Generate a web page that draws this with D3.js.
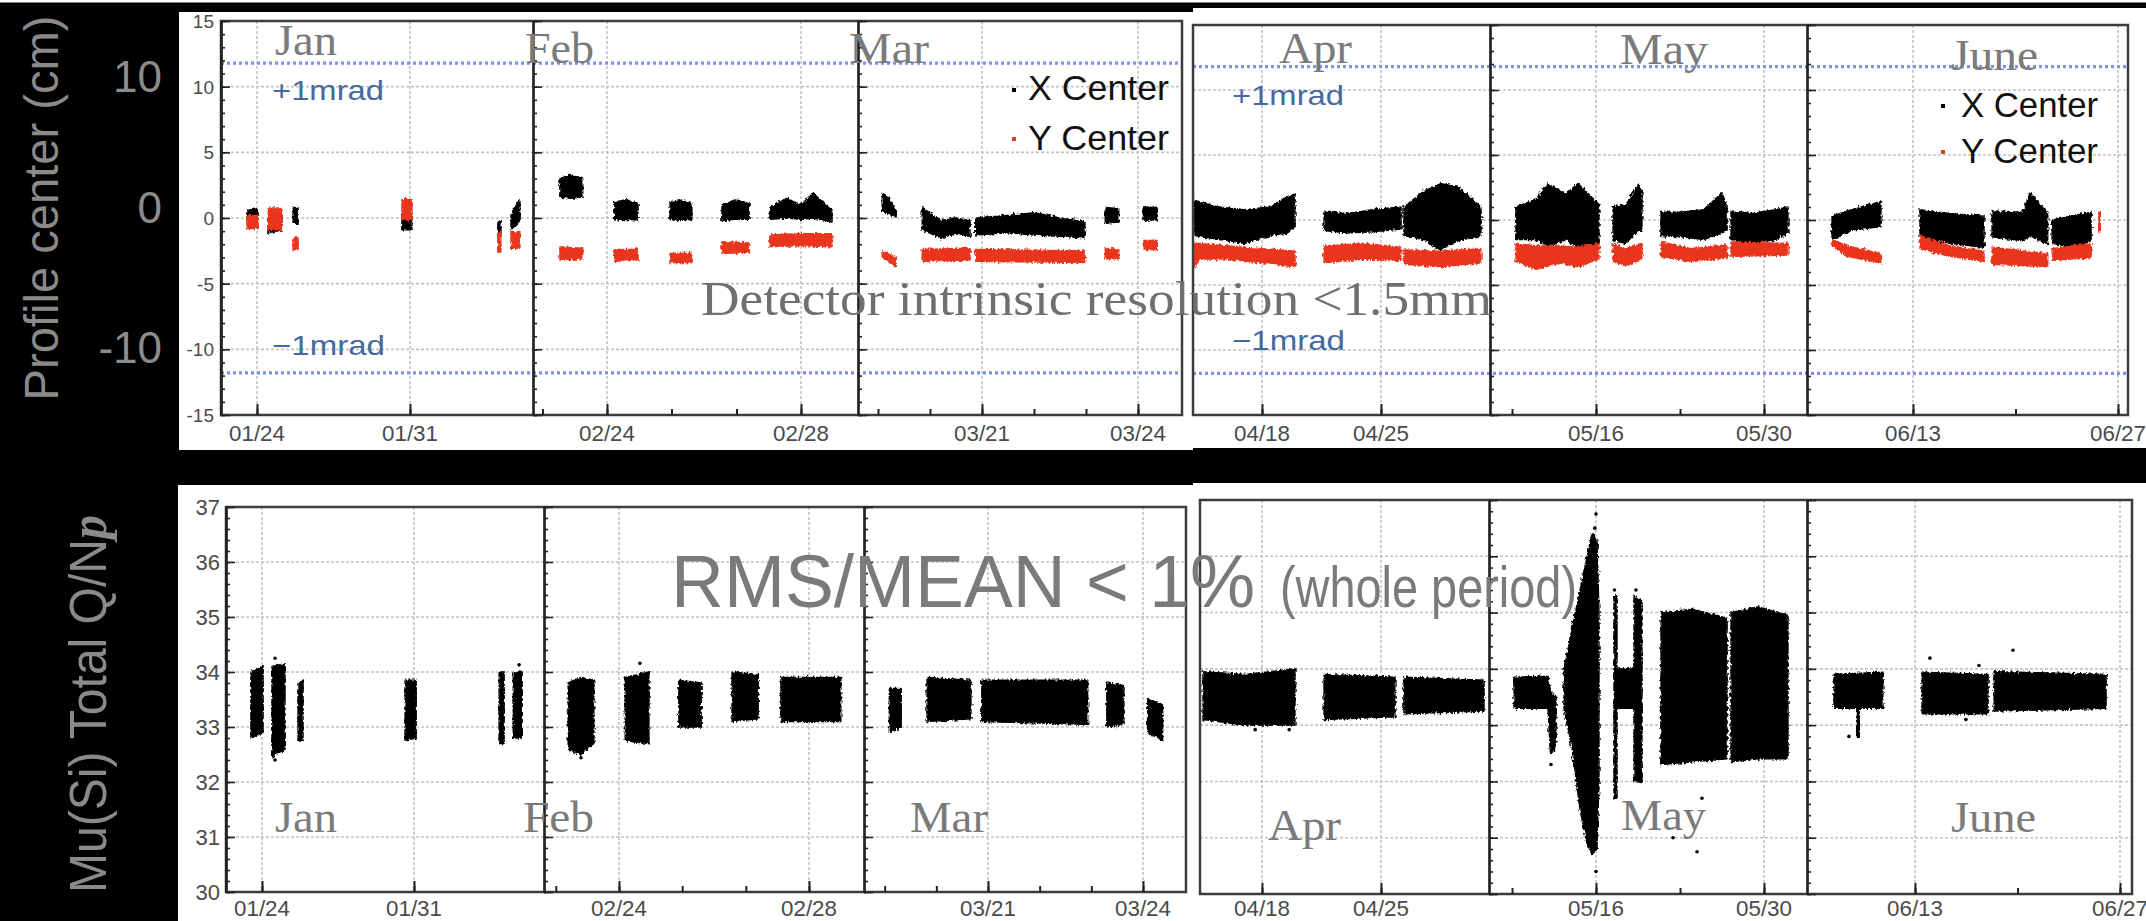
<!DOCTYPE html>
<html>
<head>
<meta charset="utf-8">
<title>Beam profile centre and Mu(Si) total charge per proton</title>
<script src="https://cdn.jsdelivr.net/npm/d3@7/dist/d3.min.js"></script>
<style>
html,body{margin:0;padding:0;background:#000;}
svg{display:block;}
</style>
</head>
<body>
<svg id="chart" width="2146" height="921"></svg>
<script>
// ---------------- data ----------------
const months = ["Jan", "Feb", "Mar", "Apr", "May", "June"];
// labelled days on each month's time axis, and every tick day
const labelDays = [[24, 31], [24, 28], [21, 24], [18, 25], [16, 30], [13, 27]];
const tickDays = [[24, 31], [22.67, 24, 25.33, 26.67, 28], [19, 20, 21, 22, 23, 24], [18, 25], [9, 16, 23, 30], [13, 20, 27]];
const centerTicks = [-15, -10, -5, 0, 5, 10, 15];
const chargeTicks = [30, 31, 32, 33, 34, 35, 36, 37];
const centerBigLabels = [10, 0, -10];
const mradLimit = 11.8; // beam centre shift equivalent to 1 mrad (cm)

// runs of measurements: [month index, [[day, low, high], ...]]
const xCenterRuns = [
  [0, [[23.54, -0.1, 0.5], [23.8, 0.0, 0.76], [24.05, -0.1, 0.6]]],
  [0, [[24.5, -1.15, 0.2], [25.14, -0.9, 0.2]]],
  [0, [[25.65, -0.4, 0.8], [25.88, -0.4, 0.8]]],
  [0, [[30.63, -0.9, 0.4], [31.09, -0.9, 0.3]]],
  [0, [[35.02, -1.4, -0.3], [35.16, -1.3, -0.3]]],
  [0, [[35.62, -0.9, 0.2], [35.8, -0.6, 0.8], [36.03, -0.2, 1.4]]],
  [1, [[23.03, 1.6, 3.0], [23.25, 1.5, 3.3], [23.5, 1.6, 3.0]]],
  [1, [[24.16, -0.15, 1.2], [24.4, -0.1, 1.4], [24.64, -0.15, 1.1]]],
  [1, [[25.3, -0.1, 1.2], [25.5, -0.2, 1.4], [25.75, -0.1, 1.1]]],
  [1, [[26.37, -0.2, 1.0], [26.65, -0.1, 1.4], [26.93, -0.1, 1.1]]],
  [1, [[27.36, -0.1, 0.8], [27.7, 0.0, 1.5], [28.0, -0.1, 1.0], [28.25, 0.0, 1.9], [28.5, -0.2, 1.0], [28.64, -0.3, 0.6]]],
  [2, [[19.08, 0.6, 1.9], [19.2, 0.3, 1.5], [19.35, 0.1, 0.6]]],
  [2, [[19.85, -0.9, 0.8], [20.2, -1.5, -0.2], [20.5, -1.2, 0.0], [20.77, -1.4, -0.2]]],
  [2, [[20.88, -1.3, 0.0], [21.5, -1.1, 0.2], [22.0, -1.3, 0.4], [22.5, -1.4, 0.0], [22.98, -1.5, -0.3]]],
  [2, [[23.37, -0.4, 0.8], [23.63, -0.3, 0.7]]],
  [2, [[24.1, -0.15, 0.85], [24.37, -0.15, 0.8]]],
  [3, [[14.0, -1.2, 1.5], [15.5, -1.5, 1.0], [17.0, -1.8, 0.8], [18.5, -1.2, 1.0], [19.5, -1.0, 1.8], [19.94, -0.5, 2.0]]],
  [3, [[21.65, -0.8, 0.6], [23.0, -1.0, 0.5], [24.5, -0.9, 0.8], [26.18, -0.7, 1.0]]],
  [3, [[26.35, -1.2, 1.0], [27.5, -1.5, 2.2], [28.5, -2.3, 2.8], [29.5, -1.6, 2.6], [30.88, -1.2, 1.0]]],
  [4, [[9.33, -1.5, 1.0], [11.0, -1.5, 1.6], [12.0, -2.0, 2.8], [13.5, -1.5, 2.0], [14.5, -2.1, 2.8], [16.25, -1.8, 1.2]]],
  [4, [[17.42, -1.6, 1.0], [18.5, -1.8, 1.2], [19.5, -0.8, 2.7], [19.83, -0.8, 2.2]]],
  [4, [[21.42, -1.2, 0.6], [23.0, -1.3, 0.6], [25.0, -1.5, 0.8], [26.5, -1.0, 2.1], [26.92, -0.8, 1.0]]],
  [4, [[27.25, -1.5, 0.7], [29.0, -1.8, 0.5], [31.0, -1.5, 0.8], [32.0, -1.0, 1.0]]],
  [5, [[7.47, -1.5, 0.3], [8.8, -0.8, 0.8], [10.81, -0.5, 1.4]]],
  [5, [[13.48, -1.2, 0.8], [15.5, -1.8, 0.5], [17.85, -2.1, 0.3]]],
  [5, [[18.4, -1.3, 0.7], [20.5, -1.6, 0.6], [21.0, -1.2, 2.1], [22.2, -1.9, 0.5]]],
  [5, [[22.5, -1.8, 0.0], [23.8, -2.1, 0.3], [25.16, -1.6, 0.6]]]
];

const yCenterRuns = [
  [0, [[23.54, -0.8, 0.2], [24.05, -0.8, 0.2]]],
  [0, [[24.5, -0.9, 0.76], [25.14, -0.9, 0.76]]],
  [0, [[25.65, -2.4, -1.5], [25.88, -2.4, -1.5]]],
  [0, [[30.63, -0.15, 1.4], [31.09, -0.15, 1.4]]],
  [0, [[35.02, -2.6, -1.1], [35.16, -2.6, -1.1]]],
  [0, [[35.62, -2.3, -1.1], [36.03, -2.3, -1.1]]],
  [1, [[23.03, -3.2, -2.2], [23.5, -3.1, -2.3]]],
  [1, [[24.16, -3.3, -2.4], [24.64, -3.2, -2.4]]],
  [1, [[25.3, -3.4, -2.7], [25.75, -3.4, -2.7]]],
  [1, [[26.37, -2.7, -1.8], [26.93, -2.6, -1.9]]],
  [1, [[27.36, -2.2, -1.3], [28.0, -2.1, -1.2], [28.64, -2.2, -1.2]]],
  [2, [[19.08, -3.0, -2.5], [19.35, -3.7, -3.0]]],
  [2, [[19.85, -3.3, -2.4], [20.77, -3.2, -2.3]]],
  [2, [[20.88, -3.3, -2.4], [22.98, -3.4, -2.5]]],
  [2, [[23.37, -3.1, -2.3], [23.63, -3.1, -2.4]]],
  [2, [[24.1, -2.4, -1.7], [24.37, -2.4, -1.7]]],
  [3, [[14.0, -3.6, -1.8], [14.3, -3.0, -1.8], [16.0, -3.0, -2.0], [19.94, -3.6, -2.4]]],
  [3, [[21.65, -3.3, -2.0], [24.0, -3.0, -1.8], [26.18, -3.1, -2.1]]],
  [3, [[26.35, -3.4, -2.3], [28.5, -3.6, -2.4], [30.88, -3.3, -2.2]]],
  [4, [[9.33, -3.2, -1.8], [11.0, -3.8, -2.0], [13.0, -3.3, -2.0], [14.5, -3.6, -2.1], [16.25, -3.0, -1.8]]],
  [4, [[17.42, -3.2, -1.8], [18.5, -3.5, -2.2], [19.83, -3.0, -1.8]]],
  [4, [[21.42, -2.8, -1.7], [24.0, -3.2, -2.2], [26.92, -2.9, -1.9]]],
  [4, [[27.25, -2.8, -1.7], [32.0, -2.7, -1.8]]],
  [5, [[7.47, -2.0, -1.5], [8.5, -2.8, -2.0], [10.81, -3.3, -2.6]]],
  [5, [[13.48, -2.2, -1.2], [15.5, -2.8, -2.0], [17.85, -3.2, -2.4]]],
  [5, [[18.4, -3.4, -2.1], [22.2, -3.6, -2.6]]],
  [5, [[22.5, -3.1, -2.2], [25.16, -2.9, -1.8]]],
  [5, [[25.65, -0.9, 0.6], [25.8, -0.9, 0.6]]]
];

const chargeRuns = [
  [0, [[23.49, 32.8, 34.0], [24.05, 32.9, 34.1]]],
  [0, [[24.46, 32.45, 34.1], [25.06, 32.6, 34.15]]],
  [0, [[25.66, 32.75, 33.8], [25.89, 32.75, 33.85]]],
  [0, [[30.59, 32.76, 33.85], [31.1, 32.8, 33.85]]],
  [0, [[34.92, 32.7, 34.0], [35.15, 32.7, 34.0]]],
  [0, [[35.57, 32.8, 34.0], [35.98, 32.8, 34.0]]],
  [1, [[22.93, 32.6, 33.8], [23.2, 32.5, 33.9], [23.47, 32.7, 33.85]]],
  [1, [[24.13, 32.75, 33.9], [24.63, 32.7, 34.0]]],
  [1, [[25.26, 33.0, 33.85], [25.73, 33.0, 33.8]]],
  [1, [[26.38, 33.1, 34.0], [26.93, 33.15, 33.95]]],
  [1, [[27.41, 33.1, 33.9], [28.67, 33.1, 33.9]]],
  [2, [[19.09, 32.9, 33.7], [19.32, 33.0, 33.7]]],
  [2, [[19.82, 33.1, 33.9], [20.67, 33.15, 33.85]]],
  [2, [[20.88, 33.1, 33.85], [22.93, 33.05, 33.85]]],
  [2, [[23.3, 33.0, 33.8], [23.63, 33.05, 33.75]]],
  [2, [[24.09, 32.9, 33.5], [24.38, 32.75, 33.4]]],
  [3, [[14.53, 33.1, 33.95], [17.0, 33.0, 33.9], [19.94, 33.0, 34.0]]],
  [3, [[21.65, 33.1, 33.9], [25.82, 33.15, 33.85]]],
  [3, [[26.35, 33.2, 33.85], [31.06, 33.25, 33.8]]],
  [4, [[9.17, 33.3, 33.85], [12.0, 33.3, 33.87], [12.2, 32.5, 33.6], [12.67, 32.6, 33.5]]],
  [4, [[13.33, 33.3, 34.0], [14.0, 32.6, 34.7], [14.67, 31.5, 35.4], [15.25, 30.9, 36.0], [15.67, 30.7, 36.4], [16.08, 30.8, 36.3], [16.25, 32.0, 35.0]]],
  [4, [[17.5, 31.7, 35.3], [17.75, 31.7, 35.3]]],
  [4, [[17.75, 33.3, 34.0], [19.17, 33.3, 34.0]]],
  [4, [[19.17, 32.0, 35.3], [19.83, 31.98, 35.2]]],
  [4, [[21.42, 32.3, 35.0], [24.0, 32.35, 35.06], [26.92, 32.4, 34.9]]],
  [4, [[27.25, 32.35, 35.0], [29.5, 32.4, 35.1], [32.0, 32.4, 34.95]]],
  [5, [[7.47, 33.3, 33.9], [10.81, 33.3, 33.94]]],
  [5, [[9.0, 32.8, 33.4], [9.2, 32.8, 33.4]]],
  [5, [[13.48, 33.2, 33.94], [17.99, 33.2, 33.9]]],
  [5, [[18.4, 33.25, 33.95], [26.05, 33.3, 33.9]]]
];

// isolated points: [month index, day, value]
const chargeOutliers = [
  [0, 24.6, 34.25], [0, 24.6, 32.4], [0, 35.84, 34.13],
  [1, 23.2, 32.44], [1, 24.44, 34.16],
  [3, 17.6, 32.92], [3, 19.6, 32.92],
  [4, 16.0, 36.75], [4, 15.9, 36.5], [4, 17.54, 35.4], [4, 19.33, 35.4],
  [4, 24.83, 31.7], [4, 22.42, 31.0], [4, 24.42, 30.75], [4, 12.25, 32.3], [4, 16.0, 30.4],
  [5, 14.02, 34.19], [5, 19.69, 34.33], [5, 17.37, 34.06], [5, 16.48, 33.1], [5, 8.49, 32.8]
];

// ---------------- drawing ----------------
const svg = d3.select("#chart");
const defs = svg.append("defs");
const SANS = "'Liberation Sans', Arial, Helvetica, sans-serif";
const SERIF = "'Liberation Serif', 'Times New Roman', serif";

// ragged edge for dense scatter clouds
const rough = defs.append("filter").attr("id", "ragged")
  .attr("x", "-5%").attr("y", "-20%").attr("width", "110%").attr("height", "140%");
rough.append("feTurbulence").attr("type", "fractalNoise").attr("baseFrequency", "0.45 0.3")
  .attr("numOctaves", 2).attr("seed", 7).attr("result", "noise");
rough.append("feDisplacementMap").attr("in", "SourceGraphic").attr("in2", "noise")
  .attr("scale", 5).attr("xChannelSelector", "R").attr("yChannelSelector", "G");

function label(parent, o) {
  const t = parent.append("text")
    .attr("x", o.x).attr("y", o.y)
    .attr("font-family", o.family || SANS)
    .attr("font-size", o.size)
    .attr("fill", o.fill || "#777")
    .attr("text-anchor", o.anchor || "start")
    .text(o.text);
  if (o.len) t.attr("textLength", o.len).attr("lengthAdjust", "spacingAndGlyphs");
  if (o.rotate) t.attr("transform", `rotate(${o.rotate},${o.x},${o.y})`);
  return t;
}

// white plot backgrounds, black surround
svg.append("rect").attr("width", 2146).attr("height", 921).attr("fill", "#000");
svg.append("rect").attr("x", 0).attr("y", 0).attr("width", 2146).attr("height", 2.5).attr("fill", "#fff");
[[179, 12, 1014, 438], [1193, 8, 953, 440], [178, 485, 1015, 436], [1193, 483, 953, 438]]
  .forEach(([x, y, w, h]) => svg.append("rect").attr("x", x).attr("y", y).attr("width", w).attr("height", h).attr("fill", "#fff"));

function drawChart(cfg) {
  const g = svg.append("g");
  const frameOf = i => (i < 3 ? 0 : 1);
  const yScales = cfg.frames.map(f => d3.scaleLinear().domain(cfg.yDomain).range([f.y1, f.y0]));
  const xScales = cfg.panels.map((p, i) => d3.scaleLinear().domain(labelDays[i]).range(cfg.anchors[i]));

  cfg.panels.forEach((p, i) => {
    const f = cfg.frames[frameOf(i)];
    defs.append("clipPath").attr("id", `${cfg.id}-clip${i}`)
      .append("rect").attr("x", p[0]).attr("y", f.y0).attr("width", p[1] - p[0]).attr("height", f.y1 - f.y0);
  });

  // grid
  const grid = g.append("g").attr("stroke", "#c4c4c4").attr("stroke-width", 1.6).attr("stroke-dasharray", "3,2");
  cfg.frames.forEach((f, k) => {
    grid.append("g").selectAll("line").data(cfg.gridValues).join("line")
      .attr("x1", f.x0).attr("x2", f.x1)
      .attr("y1", d => yScales[k](d)).attr("y2", d => yScales[k](d));
  });
  cfg.panels.forEach((p, i) => {
    const f = cfg.frames[frameOf(i)];
    grid.append("g").selectAll("line").data(labelDays[i]).join("line")
      .attr("x1", d => xScales[i](d)).attr("x2", d => xScales[i](d))
      .attr("y1", f.y0).attr("y2", f.y1);
  });

  // ±1 mrad reference lines
  if (cfg.refLines) {
    cfg.frames.forEach((f, k) => {
      g.append("g").selectAll("line").data(cfg.refLines).join("line")
        .attr("x1", f.x0).attr("x2", f.x1)
        .attr("y1", d => yScales[k](d)).attr("y2", d => yScales[k](d))
        .attr("stroke", "#8090f0").attr("stroke-width", 3.2).attr("stroke-dasharray", "3,3");
    });
  }

  // measurement runs
  cfg.series.forEach(s => {
    const sg = g.append("g").attr("fill", s.color).attr("stroke", s.color)
      .attr("stroke-width", 1.4).attr("stroke-linejoin", "round");
    s.runs.forEach(([m, pts]) => {
      const k = frameOf(m);
      const area = d3.area()
        .x(d => xScales[m](d[0]))
        .y0(d => yScales[k](d[1]))
        .y1(d => yScales[k](d[2]));
      sg.append("g").attr("clip-path", `url(#${cfg.id}-clip${m})`)
        .append("path").attr("d", area(pts)).attr("filter", "url(#ragged)");
    });
    if (s.points) {
      sg.selectAll("circle").data(s.points).join("circle")
        .attr("clip-path", d => `url(#${cfg.id}-clip${d[0]})`)
        .attr("cx", d => xScales[d[0]](d[1]))
        .attr("cy", d => yScales[frameOf(d[0])](d[2]))
        .attr("r", 1.8).attr("stroke", "none");
    }
  });

  // frames
  cfg.frames.forEach(f => {
    g.append("rect").attr("x", f.x0).attr("y", f.y0).attr("width", f.x1 - f.x0).attr("height", f.y1 - f.y0)
      .attr("fill", "none").attr("stroke", "#3c3c3c").attr("stroke-width", 2.5);
  });

  // month y axes (ticks pointing into each panel)
  cfg.panels.forEach((p, i) => {
    if (i === 3) return;
    const y = yScales[frameOf(i)];
    const ax = g.append("g").attr("transform", `translate(${p[0]},0)`);
    ax.append("g").call(d3.axisRight(y).tickValues(cfg.minorY).tickSize(4).tickSizeOuter(0).tickFormat(""));
    ax.append("g").call(d3.axisRight(y).tickValues(cfg.majorY).tickSize(9).tickSizeOuter(0).tickFormat(""));
    ax.selectAll("path").attr("stroke", "#222").attr("stroke-width", 2.2);
    ax.selectAll("line").attr("stroke", "#222").attr("stroke-width", 1.6);
  });

  // y tick labels on the first panel
  const f0 = cfg.frames[0];
  g.append("g").selectAll("text").data(cfg.majorY).join("text")
    .attr("x", f0.x0 - cfg.yLabelGap).attr("y", d => yScales[0](d)).attr("dy", "0.36em")
    .attr("text-anchor", "end").attr("font-family", SANS).attr("font-size", cfg.yLabelSize)
    .attr("fill", "#4a4a4a").text(d => d);

  // time axes
  cfg.panels.forEach((p, i) => {
    const f = cfg.frames[frameOf(i)];
    const ax = g.append("g").attr("transform", `translate(0,${f.y1})`);
    ax.append("g").call(d3.axisTop(xScales[i]).tickValues(tickDays[i]).tickSize(6).tickSizeOuter(0).tickFormat(""));
    ax.append("g").call(d3.axisTop(xScales[i]).tickValues(labelDays[i]).tickSize(11).tickSizeOuter(0).tickFormat(""));
    ax.selectAll("path").remove();
    ax.selectAll("line").attr("stroke", "#222").attr("stroke-width", 2);
    g.append("g").selectAll("text").data(labelDays[i]).join("text")
      .attr("x", d => xScales[i](d)).attr("y", cfg.xLabelY)
      .attr("text-anchor", "middle").attr("font-family", SANS).attr("font-size", 22)
      .attr("fill", "#4a4a4a")
      .attr("textLength", 56).attr("lengthAdjust", "spacingAndGlyphs")
      .text(d => `${String(i + 1).padStart(2, "0")}/${d}`);
  });

  // month names
  cfg.monthLabels.forEach(([x, y, w], i) => {
    label(g, { x, y, text: months[i], size: 44, family: SERIF, fill: "#7a7a7a", len: w });
  });
  return { xScales, yScales };
}

// ---- beam profile centre ----
const centreChart = drawChart({
  id: "centre",
  frames: [{ x0: 221, x1: 1182, y0: 21, y1: 415 }, { x0: 1193, x1: 2128, y0: 25, y1: 415 }],
  panels: [[221, 533], [533, 858], [858, 1182], [1193, 1490], [1490, 1807], [1807, 2128]],
  anchors: [[257, 410], [607, 801], [982, 1138], [1262, 1381], [1596, 1764], [1913, 2118]],
  yDomain: [-15, 15],
  majorY: centerTicks,
  minorY: d3.range(-15, 15.01, 1),
  gridValues: centerTicks.slice(1, -1),
  refLines: [mradLimit, -mradLimit],
  series: [
    { color: "#000", runs: xCenterRuns },
    { color: "#e8351f", runs: yCenterRuns }
  ],
  yLabelGap: 7, yLabelSize: 19,
  xLabelY: 441,
  monthLabels: [[275, 55, 62], [525, 63, 69], [849, 63, 80], [1279, 63, 73], [1620, 64, 88], [1951, 70, 87]]
});

// ---- Mu(Si) total charge per proton ----
const chargeChart = drawChart({
  id: "charge",
  frames: [{ x0: 226, x1: 1186, y0: 507, y1: 892 }, { x0: 1200, x1: 2132, y0: 500, y1: 894 }],
  panels: [[226, 544], [544, 864], [864, 1186], [1200, 1489], [1489, 1807], [1807, 2132]],
  anchors: [[262, 414], [619, 809], [988, 1143], [1262, 1381], [1596, 1764], [1915, 2120]],
  yDomain: [30, 37],
  majorY: chargeTicks,
  minorY: d3.range(30, 37.001, 0.2),
  gridValues: chargeTicks.slice(1, -1),
  series: [{ color: "#000", runs: chargeRuns, points: chargeOutliers }],
  yLabelGap: 6, yLabelSize: 22,
  xLabelY: 916,
  monthLabels: [[275, 832, 62], [523, 832, 71], [910, 832, 78], [1268, 840, 73], [1621, 830, 85], [1951, 832, 85]]
});

// ---- annotations ----
const ann = svg.append("g");
// legends
[[1014, 90, 1028, 100, 141, 139, 150], [1943, 106, 1961, 117, 137, 152, 163]].forEach(([dx, dy1, tx, ty1, w, dy2, ty2]) => {
  ann.append("rect").attr("x", dx - 2).attr("y", dy1 - 2).attr("width", 4).attr("height", 4).attr("fill", "#000");
  label(ann, { x: tx, y: ty1, text: "X Center", size: 35, fill: "#111", len: w });
  ann.append("rect").attr("x", dx - 2).attr("y", dy2 - 2).attr("width", 4).attr("height", 4).attr("fill", "#e8351f");
  label(ann, { x: tx, y: ty2, text: "Y Center", size: 35, fill: "#111", len: w });
});
// mrad labels
[[272, 100, 355], [1232, 105, 350]].forEach(([x, yp, ym]) => {
  label(ann, { x, y: yp, text: "+1mrad", size: 28, fill: "#46699e", len: 112 });
  label(ann, { x, y: ym, text: "\u22121mrad", size: 28, fill: "#46699e", len: 113 });
});
label(ann, { x: 701, y: 315, text: "Detector intrinsic resolution <1.5mm", size: 48, family: SERIF, fill: "#6f6f6f", len: 791 });
label(ann, { x: 671, y: 607, text: "RMS/MEAN < 1%", size: 75, fill: "#7a7a7a", len: 584 });
label(ann, { x: 1280, y: 607, text: "(whole period)", size: 58, fill: "#7a7a7a", len: 297 });

// large axis titles in the black margin
const bigY = d3.scaleLinear().domain([-10, 0, 10]).range([363, 223, 92]);
ann.append("g").selectAll("text").data(centerBigLabels).join("text")
  .attr("x", 162).attr("y", d => bigY(d)).attr("text-anchor", "end")
  .attr("font-family", SANS).attr("font-size", 44).attr("fill", "#8c8c8c")
  .text(d => d);
label(ann, { x: 58, y: 208, text: "Profile center (cm)", size: 48, fill: "#8a8a8a", anchor: "middle", len: 385, rotate: -90 });
const q = ann.append("text")
  .attr("x", 106).attr("y", 704).attr("text-anchor", "middle")
  .attr("font-family", SANS).attr("font-size", 52).attr("fill", "#8a8a8a")
  .attr("textLength", 378).attr("lengthAdjust", "spacingAndGlyphs")
  .attr("transform", "rotate(-90,106,704)");
q.append("tspan").text("Mu(Si) Total Q/N");
q.append("tspan").attr("font-family", SERIF).attr("font-style", "italic").attr("font-weight", "bold").text("p");
</script>
</body>
</html>
